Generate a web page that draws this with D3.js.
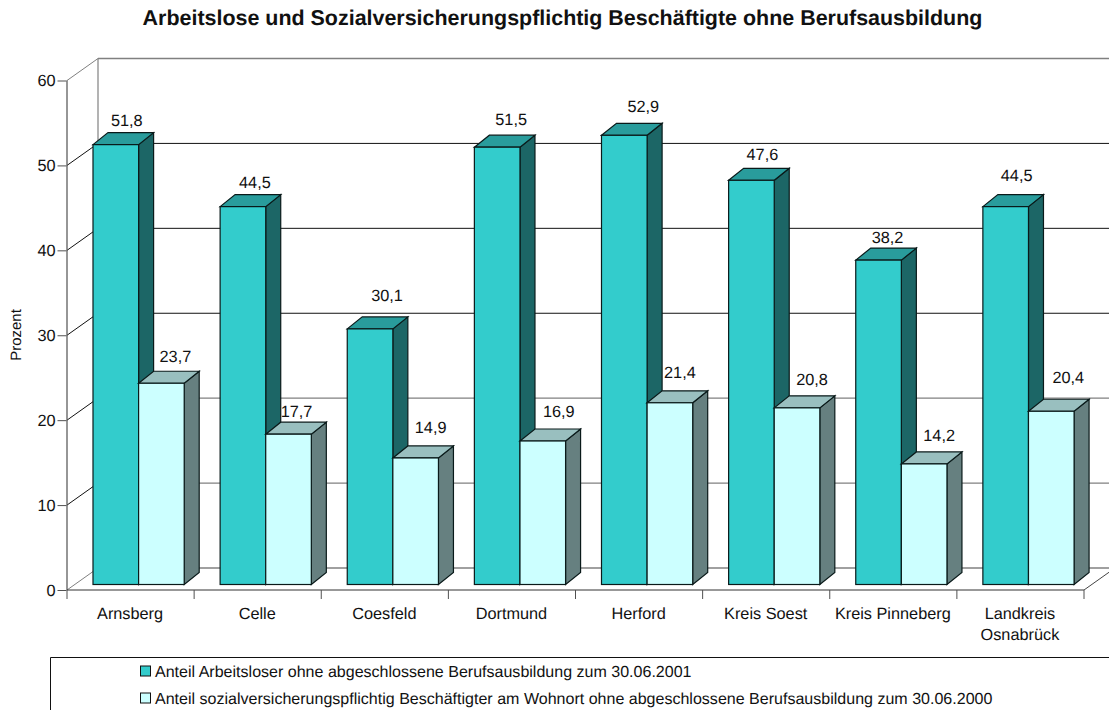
<!DOCTYPE html>
<html><head><meta charset="utf-8">
<script src="https://cdn.jsdelivr.net/npm/d3@7/dist/d3.min.js"></script>
<style>html,body{margin:0;padding:0;background:#fff;overflow:hidden}svg{display:block}text{font-family:"Liberation Sans",Arial,sans-serif;fill:#111;text-rendering:geometricPrecision}</style>
</head><body><div id="c"></div>
<script>
const title = "Arbeitslose und Sozialversicherungspflichtig Beschäftigte ohne Berufsausbildung";
const categories = ["Arnsberg","Celle","Coesfeld","Dortmund","Herford","Kreis Soest","Kreis Pinneberg","Landkreis|Osnabrück"];
const seriesNames = ["Anteil Arbeitsloser ohne abgeschlossene Berufsausbildung zum 30.06.2001",
  "Anteil sozialversicherungspflichtig Beschäftigter am Wohnort ohne abgeschlossene Berufsausbildung zum 30.06.2000"];
const arbeitslose = [51.8,44.5,30.1,51.5,52.9,47.6,38.2,44.5];
const beschaeftigte = [23.7,17.7,14.9,16.9,21.4,20.8,14.2,20.4];
const yTicks = [0,10,20,30,40,50,60];
const yLabel = "Prozent";

// layout and style, separate from the data
const W=1109,H=710;
const wallDx=31, wallDy=-22, barDx=15, barDy=-12;
const barInsetX=26, barInsetY=-5.5, barW=45.6;
const fs=16.3, legendFs=16.05;
const palette=[{front:"#33CCCC",top:"#299C9C",side:"#1C6666"},{front:"#CCFFFF",top:"#99BFBF",side:"#668080"}];
const nudge=[
 [[-1,0],[0,0],[5,-9],[2,-3],[7,-4],[-1,-1],[-3,2],[-1,-7]],
 [[2,-2],[-4,2],[3,-6],[4,-5],[-2,-6],[3,-4],[3,-4],[5,-9]]];

const svg=d3.select("#c").append("svg").attr("width",W).attr("height",H);
const y=d3.scaleLinear().domain([0,60]).range([590,80.5]);
const x=d3.scaleBand().domain(categories).range([67,1084]);
const x0=x.range()[0], x1=x.range()[1];
const line=(a,b,c,d,s,w=1)=>svg.append("line").attr("x1",a).attr("y1",b).attr("x2",c).attr("y2",d).attr("stroke",s).attr("stroke-width",w);

// back wall, side wall and floor
yTicks.forEach(t=>{
  const grey=t<=20||t===60;
  line(x0+wallDx,y(t)+wallDy,x1+wallDx,y(t)+wallDy,grey?"#808080":"#111",grey?1.4:1);
  line(x0,y(t),x0+wallDx,y(t)+wallDy,(t===0||t===60)?"#808080":"#111",1);
});
line(x0+wallDx,y(0)+wallDy,x0+wallDx,y(60)+wallDy,"#808080",1.2);
line(x1,y(0),x1+wallDx,y(0)+wallDy,"#444",1);

// axes built by d3
const yAxis=d3.axisLeft(y).tickValues(yTicks).tickSize(9).tickPadding(2).tickFormat(d3.format("d"));
const ga=svg.append("g").attr("transform",`translate(${x0-.5},0)`).call(yAxis);
ga.select(".domain").attr("stroke","#505050").attr("stroke-width",1.2).attr("d",`M0.5,${y(60)}V${y(0)}`);
ga.selectAll(".tick line").attr("stroke","#505050");
ga.selectAll("text").attr("font-size",fs).attr("fill","#111");
const gx=svg.append("g").attr("transform",`translate(0,${y(0)})`);
gx.append("line").attr("x1",x0).attr("x2",x1).attr("stroke","#333");
gx.selectAll("line.t").data(d3.range(categories.length+1)).join("line").attr("class","t")
  .attr("x1",i=>x0+i*x.bandwidth()).attr("x2",i=>x0+i*x.bandwidth()).attr("y1",0).attr("y2",9).attr("stroke","#505050");
categories.forEach(c=>{
  const parts=c.split("|");
  const t=svg.append("text").attr("text-anchor","middle").attr("font-size",fs);
  parts.forEach((p,i)=>t.append("tspan").attr("x",x(c)+x.bandwidth()/2-.5).attr("y",619+i*21).text(p));
});

// 3D bars
const bar=(cx,v,pal)=>{
  const l=cx, r=cx+barW, b=y(0)+barInsetY, t=y(v)+barInsetY;
  const g=svg.append("g").attr("stroke","#0a1a1a").attr("stroke-width",1.2).attr("stroke-linejoin","miter");
  g.append("path").attr("fill",pal.side).attr("d",`M${r},${t}L${r+barDx},${t+barDy}V${b+barDy}L${r},${b}Z`);
  g.append("path").attr("fill",pal.top).attr("d",`M${l},${t}L${l+barDx},${t+barDy}H${r+barDx}L${r},${t}Z`);
  g.append("rect").attr("x",l).attr("y",t).attr("width",barW).attr("height",b-t).attr("fill",pal.front);
};
const fmt=v=>v.toFixed(1).replace(".",",");
categories.forEach((c,i)=>{
  const a=x(c)+barInsetX;
  bar(a,arbeitslose[i],palette[0]);
  bar(a+barW,beschaeftigte[i],palette[1]);
});
[arbeitslose,beschaeftigte].forEach((s,k)=>{
  s.forEach((v,i)=>{
    const cx=x(categories[i])+barInsetX+barW*k+barW/2+12+nudge[k][i][0];
    svg.append("text").attr("x",cx).attr("y",y(v)+barInsetY-19+nudge[k][i][1]).attr("text-anchor","middle").attr("font-size",fs).text(fmt(v));
  });
});

// y title
svg.append("text").attr("transform","translate(21,335) rotate(-90)").attr("text-anchor","middle").attr("font-size",fs*0.92).text(yLabel);
// title
svg.append("text").attr("x",562.5).attr("y",25).attr("text-anchor","middle").attr("font-size",21.45).attr("font-weight","bold").text(title);

// legend
svg.append("path").attr("d",`M${W+1},657.5H50.5V${H+1}`).attr("fill","none").attr("stroke","#111");
seriesNames.forEach((n,i)=>{
  const yy=671+i*27;
  svg.append("rect").attr("x",140.5).attr("y",yy-5).attr("width",10).attr("height",10).attr("fill",palette[i].front).attr("stroke","#111");
  svg.append("text").attr("x",155).attr("y",yy+6).attr("font-size",legendFs).text(n);
});
</script></body></html>
